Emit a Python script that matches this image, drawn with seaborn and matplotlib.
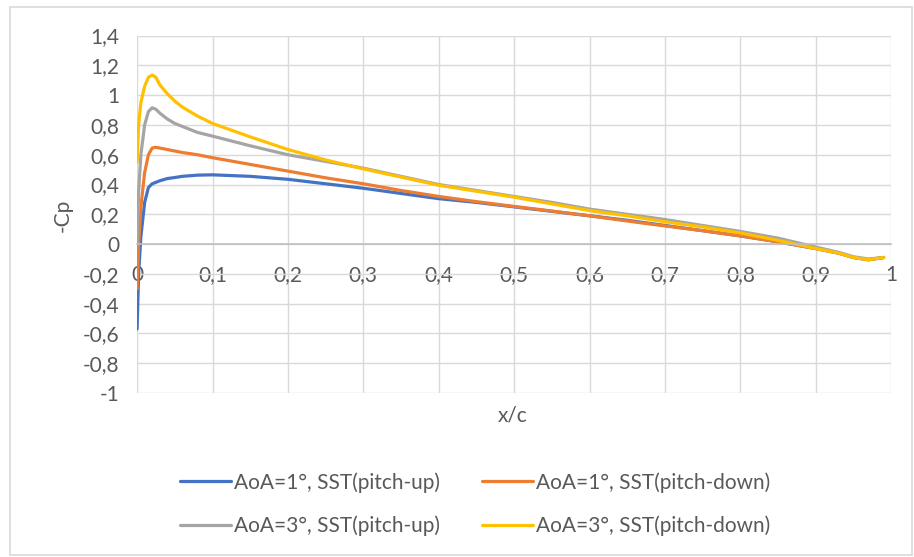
import numpy as np
import pandas as pd
import matplotlib
matplotlib.use("Agg")
import matplotlib.pyplot as plt
import seaborn as sns
from matplotlib.patches import Rectangle


# x/c stations (denser near the leading edge)
x_c = [0, 0.002, 0.005, 0.01, 0.015, 0.02, 0.025, 0.03, 0.04, 0.05, 0.06,
       0.08, 0.1, 0.15, 0.2, 0.25, 0.3, 0.35, 0.4, 0.45, 0.5, 0.55, 0.6,
       0.65, 0.7, 0.75, 0.8, 0.85, 0.9, 0.93, 0.95, 0.97, 0.99]

cp_aoa1_up = [-0.57, -0.2, 0.05, 0.28, 0.38, 0.405, 0.415, 0.425, 0.44,
              0.447, 0.455, 0.463, 0.465, 0.455, 0.435, 0.405, 0.375, 0.34,
              0.305, 0.28, 0.25, 0.22, 0.19, 0.16, 0.125, 0.09, 0.055,
              0.015, -0.03, -0.06, -0.09, -0.105, -0.09]
cp_aoa1_down = [-0.3, 0.0, 0.25, 0.48, 0.6, 0.645, 0.65, 0.645, 0.635,
                0.625, 0.615, 0.6, 0.58, 0.535, 0.49, 0.445, 0.405, 0.36,
                0.32, 0.285, 0.253, 0.222, 0.19, 0.155, 0.122, 0.09, 0.055,
                0.015, -0.03, -0.06, -0.09, -0.105, -0.09]
cp_aoa3_up = [0.0, 0.35, 0.6, 0.8, 0.89, 0.915, 0.905, 0.88, 0.84, 0.81,
              0.79, 0.75, 0.725, 0.66, 0.6, 0.555, 0.51, 0.455, 0.4, 0.36,
              0.32, 0.28, 0.235, 0.2, 0.165, 0.125, 0.085, 0.04, -0.02,
              -0.055, -0.085, -0.1, -0.09]
cp_aoa3_down = [0.55, 0.8, 0.95, 1.06, 1.12, 1.135, 1.12, 1.07, 1.01, 0.96,
                0.92, 0.86, 0.81, 0.72, 0.635, 0.565, 0.505, 0.45, 0.395,
                0.355, 0.315, 0.27, 0.225, 0.19, 0.15, 0.115, 0.075, 0.025,
                -0.03, -0.06, -0.09, -0.105, -0.09]

series_names = ["AoA=1°, SST(pitch-up)", "AoA=1°, SST(pitch-down)",
                "AoA=3°, SST(pitch-up)", "AoA=3°, SST(pitch-down)"]
series_colors = ["#4472C4", "#ED7D31", "#A5A5A5", "#FFC000"]

x_ticks = [0, 0.1, 0.2, 0.3, 0.4, 0.5, 0.6, 0.7, 0.8, 0.9, 1.0]
x_tick_labels = ["0", "0,1", "0,2", "0,3", "0,4", "0,5", "0,6", "0,7",
                 "0,8", "0,9", "1"]
y_ticks = [-1, -0.8, -0.6, -0.4, -0.2, 0, 0.2, 0.4, 0.6, 0.8, 1.0, 1.2, 1.4]
y_tick_labels = ["-1", "-0,8", "-0,6", "-0,4", "-0,2", "0", "0,2", "0,4",
                 "0,6", "0,8", "1", "1,2", "1,4"]

frames = []
for name, vals in zip(series_names,
                      [cp_aoa1_up, cp_aoa1_down, cp_aoa3_up, cp_aoa3_down]):
    frames.append(pd.DataFrame({"x": x_c, "cp": vals, "series": name}))
df = pd.concat(frames, ignore_index=True)

sns.set_style("white")
plt.rcParams["font.family"] = ["Lato", "DejaVu Sans"]

fig = plt.figure(figsize=(9.14, 5.57), dpi=100)
ax = fig.add_axes([0.15, 0.2944, 0.825, 0.6417])

sns.lineplot(data=df, x="x", y="cp", hue="series", hue_order=series_names,
             palette=series_colors, sort=False, linewidth=2.3, ax=ax,
             legend=True)

ax.set_xlim(0, 1)
ax.set_ylim(-1, 1.4)
ax.set_xticks(x_ticks)
ax.set_xticklabels(x_tick_labels)
ax.set_yticks(y_ticks)
ax.set_yticklabels(y_tick_labels)
ax.grid(True, color="#D9D9D9", linewidth=1)
ax.set_axisbelow(True)
for s in ax.spines.values():
    s.set_visible(False)
ax.spines["bottom"].set_visible(True)
ax.spines["bottom"].set_position(("data", 0))
ax.spines["bottom"].set_color("#BFBFBF")
ax.spines["bottom"].set_linewidth(1.2)
ax.tick_params(axis="x", length=0, pad=15, labelsize=15, colors="#595959")
ax.tick_params(axis="y", length=0, pad=13, labelsize=15, colors="#595959")

ax.set_xlabel("")
ax.set_ylabel("")
fig.text(0.561, 1 - 415 / 557, "x/c", ha="center", va="center",
         fontsize=15, color="#595959")
fig.text(63 / 914, 1 - 215 / 557, "-Cp", ha="center", va="center",
         rotation=90, fontsize=15, color="#595959")

# legend is filled column by column, so reorder to get row-major layout
handles, labels = ax.get_legend_handles_labels()
ax.get_legend().remove()
order = [0, 2, 1, 3]
fig.legend([handles[i] for i in order], [labels[i] for i in order],
           ncol=2, loc="center",
           bbox_to_anchor=(0.52, 1 - 504 / 557), frameon=False,
           fontsize=15, handlelength=2.45, handletextpad=0.15,
           columnspacing=2.0, labelspacing=1.1,
           labelcolor="#595959")

# chart area border
fig.patches.append(Rectangle((10 / 914, 2 / 557), 902 / 914, 548 / 557,
                             transform=fig.transFigure, fill=False,
                             edgecolor="#D9D9D9", linewidth=1.2))

fig.savefig("out.png", dpi=100)
